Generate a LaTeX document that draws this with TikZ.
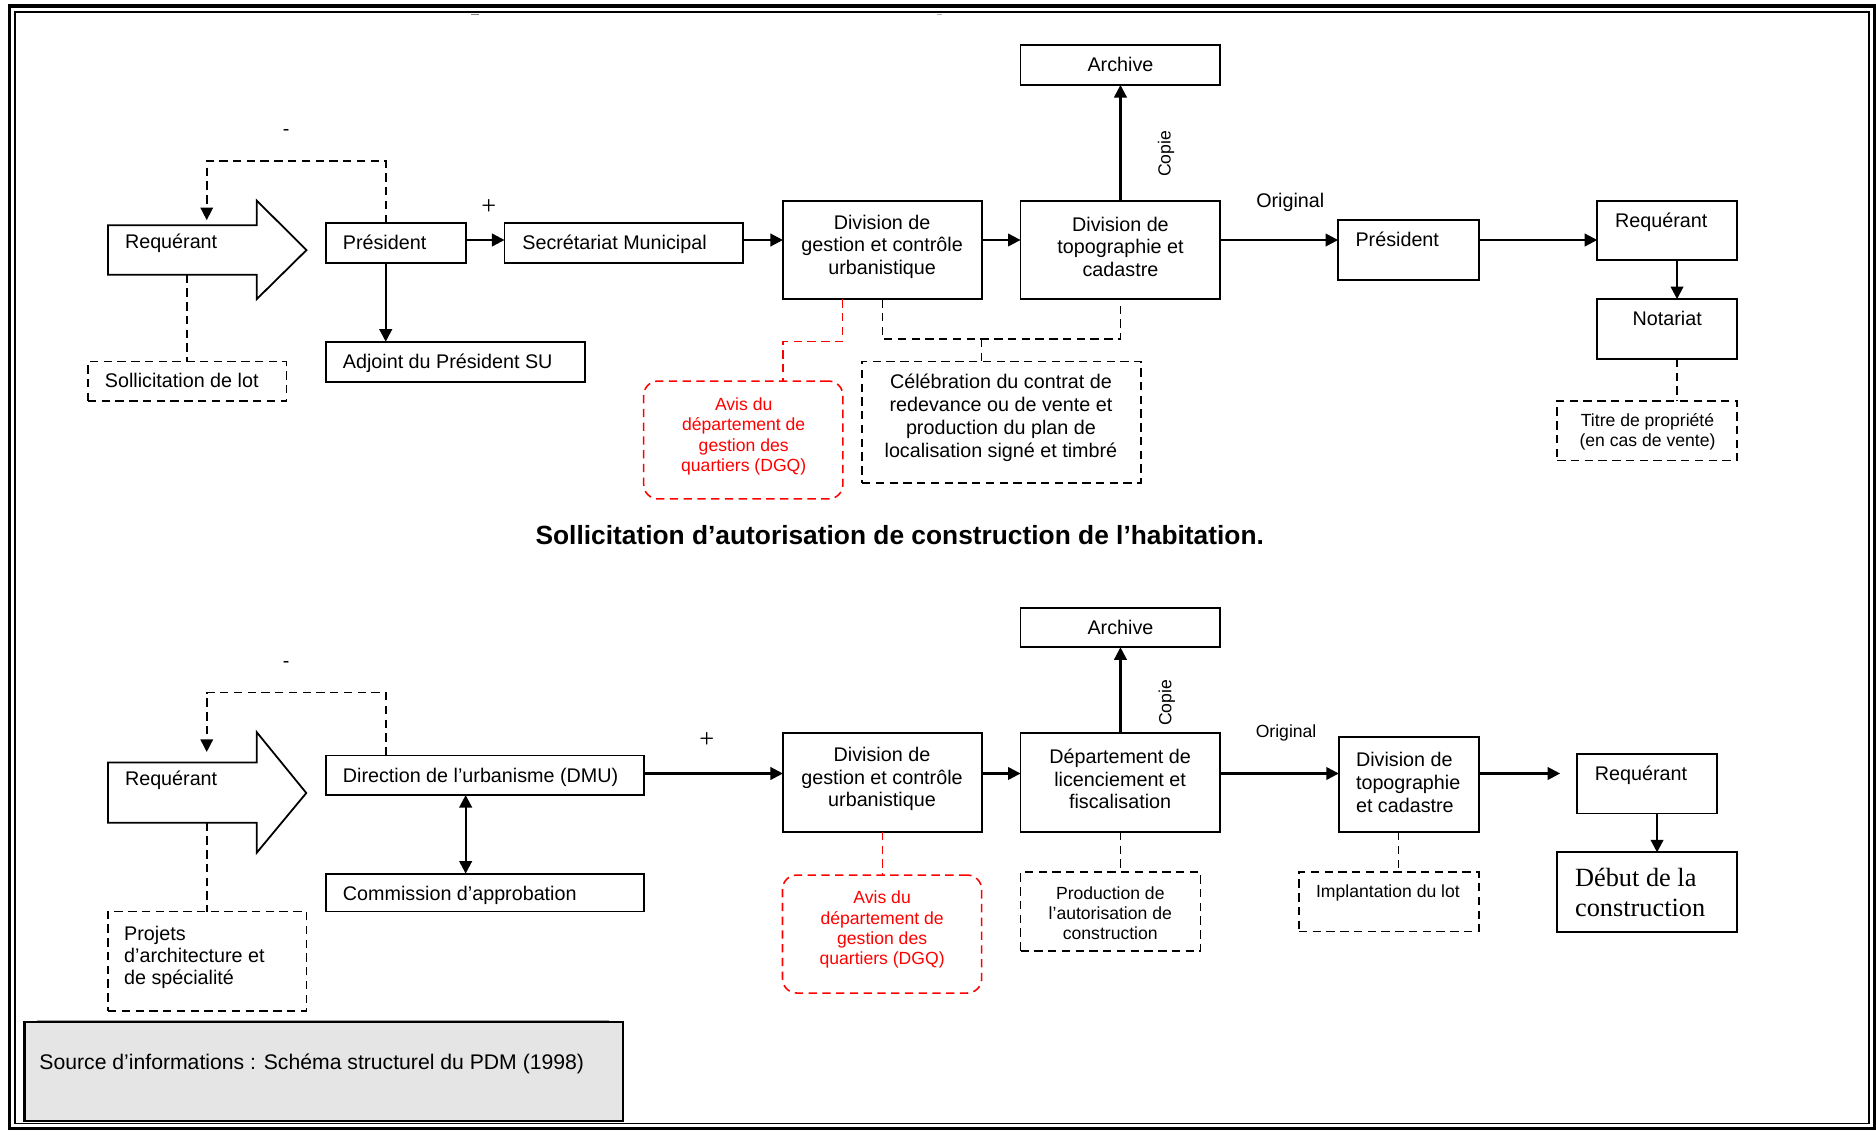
\documentclass[tikz,border=0pt]{standalone}
\usepackage{fontspec}
\setmainfont{Liberation Sans}
\newfontfamily\timesfont{Liberation Serif}
\usetikzlibrary{arrows.meta}
\newcommand\fsn{\fontsize{16.5}{18.5}\selectfont}
\newcommand\fss{\fontsize{14.7}{16.9}\selectfont}
\definecolor{srcgray}{RGB}{229,229,229}
\definecolor{avisred}{RGB}{255,0,0}

\begin{document}
\begin{tikzpicture}[x=1pt,y=-1pt,
  box/.style={draw, line width=1.5pt, inner sep=0pt, outer sep=0pt, fill=white},
  dbox/.style={draw, line width=1.3pt, dash pattern=on 7pt off 4.5pt, inner sep=0pt, outer sep=0pt, fill=white},
  rbox/.style={draw=avisred, line width=1.3pt, dash pattern=on 7pt off 4.5pt, rounded corners=12pt, inner sep=0pt, outer sep=0pt},
  bigarrow/.style={draw, line width=1.5pt, fill=white, line join=miter},
  txt/.style={inner sep=0pt, outer sep=0pt, font=\fsn, text height=0.8em, text depth=0.2em, yshift=-2.5pt},
  stxt/.style={txt, font=\fss, yshift=1pt},
  mtxt/.style={inner sep=0pt, outer sep=0pt, font=\fsn, align=center, yshift=-2.5pt},
  smtxt/.style={inner sep=0pt, outer sep=0pt, font=\fss, align=center, yshift=-1.5pt},
  redtxt/.style={smtxt, text=avisred,
    execute at begin node=\setlength{\baselineskip}{16.9pt}},
  plus/.style={inner sep=0pt, outer sep=0pt, font=\timesfont\fontsize{22}{22}\selectfont},
  tip/.style={-{Triangle[length=10.5pt,width=10.5pt]}},
  arr/.style={line width=1.9pt, tip},
  darr/.style={line width=1.9pt, {Triangle[length=10.5pt,width=10.5pt]}-{Triangle[length=10.5pt,width=10.5pt]}},
  dline/.style={line width=1.3pt, dash pattern=on 7pt off 4.5pt},
  rline/.style={draw=avisred, line width=1.3pt, dash pattern=on 7pt off 4.5pt}
]
\useasboundingbox (0,0) rectangle (1568,944);

% double frame
\draw[line width=2.6pt] (8,5) rectangle (1566.5,943.4);
\draw[line width=1.5pt] (12.8,9.8) rectangle (1561.8,939);
\draw[line width=0.8pt, gray] (393.5,12.4) -- (400,12.4);
\draw[line width=0.8pt, gray!60] (783,12.4) -- (787,12.4);

% ---------- first procedure ----------
\draw[bigarrow] (90.3,188.3) -- (214.6,188.3) -- (214.6,167.7) -- (256.2,209)
  -- (214.6,250) -- (214.6,229.6) -- (90.3,229.6) -- cycle;
\node[txt, anchor=west] (treqA) at (104.5,202) {Requérant};

\node[box, minimum width=116.5pt, minimum height=33.4pt] (pres1) at (330.95,203.1) {};
\node[txt, anchor=west] (tpres1) at (286.6,203.4) {Président};
\node[box, minimum width=199.3pt, minimum height=33.4pt] (sec) at (521.35,203.1) {};
\node[txt, anchor=west] (tsec) at (436.6,203.4) {Secrétariat Municipal};
\node[box, minimum width=166.2pt, minimum height=82.5pt] (dg1) at (737.5,208.95) {};
\node[mtxt] (tdg1) at (737.3,203.8) {Division de\\gestion et contrôle\\urbanistique};
\node[box, minimum width=167pt, minimum height=82.5pt] (dt1) at (936.5,208.95) {};
\node[mtxt] (tdt1) at (936.5,203.8) {Division de\\topographie et\\cadastre};
\node[box, minimum width=167pt, minimum height=33.4pt] (arch1) at (936.5,54.3) {};
\node[txt] (tarch1) at (936.5,54.3) {Archive};
\node[box, minimum width=117.6pt, minimum height=50.1pt] (pres2) at (1177.2,208.95) {};
\node[txt, anchor=west] (tpres2) at (1133,200.6) {Président};
\node[box, minimum width=117pt, minimum height=49.6pt] (req2) at (1393.5,192.5) {};
\node[txt, anchor=west] (treq2) at (1350,185) {Requérant};
\node[box, minimum width=117pt, minimum height=50pt] (not) at (1393.5,275) {};
\node[txt] (tnot) at (1393.5,266.7) {Notariat};
\node[dbox, minimum width=150.5pt, minimum height=50pt] (tit) at (1376.75,360) {};
\node[smtxt] (ttit) at (1377,359.6) {Titre de propriété\\(en cas de vente)};
\node[box, minimum width=216.2pt, minimum height=33.4pt] (adj) at (380.8,302.3) {};
\node[txt, anchor=west] (tadj) at (286.6,302.8) {Adjoint du Président SU};
\node[dbox, minimum width=166.1pt, minimum height=32.9pt] (sol) at (156.55,318.75) {};
\node[txt, anchor=west] (tsol) at (87.7,318.5) {Sollicitation de lot};
\node[rbox, minimum width=166.5pt, minimum height=98.5pt] (avis1) at (621.25,367.75) {};
\node[redtxt] (tavis1) at (621.6,363.3) {Avis du\\département de\\gestion des\\quartiers (DGQ)};
\node[dbox, minimum width=233.2pt, minimum height=101.5pt] (cel) at (837.1,352.75) {};
\node[mtxt, yshift=1pt, execute at begin node=\setlength{\baselineskip}{19.2pt}] (tcel) at (836.6,347.9)
  {Célébration du contrat  de\\redevance ou de vente et\\production du plan de\\localisation signé et timbré};

\node[txt] (minusA) at (239.2,108.1) {-};
\node[plus] (plusA) at (408.6,172.7) {+};
\node[stxt, rotate=90, yshift=0pt] (copieA) at (975.5,127) {Copie};
\node[txt, anchor=west] (origA) at (1050,167.7) {Original};

\coordinate (yA) at (0,200.6);
\coordinate (xP) at (322.4,0);
\coordinate (xN) at (1401.7,0);
\coordinate (fbtopA) at (172.8,134.6);
\coordinate (fbendA) at (172.8,184);
\coordinate (reqAfoot) at (156.3,229.6);
\coordinate (rA) at (704,285.6);
\coordinate (rB) at (654.5,285.6);
\coordinate (brk) at (820.5,283.3);

\draw[arr] (pres1.east |- yA) -- (sec.west |- yA);
\draw[arr] (sec.east |- yA) -- (dg1.west |- yA);
\draw[arr] (dg1.east |- yA) -- (dt1.west |- yA);
\draw[arr] (dt1.east |- yA) -- (pres2.west |- yA);
\draw[arr] (pres2.east |- yA) -- (req2.west |- yA);
\draw[arr] (dt1.north) -- (arch1.south);
\draw[arr] (pres1.south -| xP) -- (adj.north -| xP);
\draw[arr] (req2.south -| xN) -- (not.north -| xN);
\draw[dline] (not.south -| xN) -- (tit.north -| xN);
\draw[dline, tip] (pres1.north -| xP) |- (fbtopA) -- (fbendA);
\draw[dline] (reqAfoot) -- (sol.north -| reqAfoot);
\draw[rline] (dg1.south -| rA) -- (rA) -- (rB) -- (avis1.north -| rB);
\draw[dline] (dg1.south) |- (brk) -| (dt1.south);
\draw[dline] (brk) -- (cel.north -| brk);

% ---------- title ----------
\node[inner sep=0pt, font=\bfseries\fontsize{22}{26}\selectfont, yshift=-1pt] (title) at (752,446)
  {Sollicitation d’autorisation de construction de l’habitation.};

% ---------- second procedure ----------
\draw[bigarrow] (90.3,637.3) -- (214.6,637.3) -- (214.6,612) -- (256,662.8)
  -- (214.6,712.7) -- (214.6,687.6) -- (90.3,687.6) -- cycle;
\node[txt, anchor=west] (treqB) at (104.5,651) {Requérant};

\node[box, minimum width=265.8pt, minimum height=33.1pt] (dmu) at (405.6,647.95) {};
\node[txt, anchor=west] (tdmu) at (286.6,648.6) {Direction de l’urbanisme (DMU)};
\node[box, minimum width=265.8pt, minimum height=31.6pt] (com) at (405.6,746) {};
\node[txt, anchor=west] (tcom) at (286.6,747.3) {Commission d’approbation};
\node[dbox, minimum width=165.9pt, minimum height=83pt] (proj) at (173.25,803.4) {};
\node[mtxt, align=left, anchor=west,
  execute at begin node=\setlength{\baselineskip}{18.4pt}] (tproj) at (103.8,797.4)
  {Projets\\d’architecture et\\de spécialité};
\node[draw, line width=2pt, fill=srcgray, inner sep=0pt, outer sep=0pt,
  minimum width=500pt, minimum height=83pt] (src) at (270.5,895.5) {};
\draw[line width=0.8pt, gray!70] (31,852.6) -- (509,852.6);
\node[txt, font=\fontsize{17.7}{19}\selectfont, anchor=west] (tsrc) at (33,888.3)
  {Source d’informations : Schéma structurel du PDM (1998)};

\node[box, minimum width=166.2pt, minimum height=82.8pt] (dg2) at (737.5,653.8) {};
\node[mtxt, execute at begin node=\setlength{\baselineskip}{18.8pt}] (tdg2) at (737.2,648.7)
  {Division de\\gestion et contrôle\\urbanistique};
\node[box, minimum width=167pt, minimum height=82.8pt] (dept) at (936.5,653.8) {};
\node[mtxt, execute at begin node=\setlength{\baselineskip}{18.8pt}] (tdept) at (936.2,648.7)
  {Département de\\licenciement et\\fiscalisation};
\node[box, minimum width=167pt, minimum height=33pt] (arch2) at (936.5,524.5) {};
\node[txt] (tarch2) at (936.5,525.2) {Archive};
\node[box, minimum width=117pt, minimum height=79.5pt] (dt2) at (1177.5,655.75) {};
\node[mtxt, align=left, anchor=west,
  execute at begin node=\setlength{\baselineskip}{19.2pt}] (tdt2) at (1133.4,651.6)
  {Division de\\topographie\\et cadastre};
\node[box, minimum width=117pt, minimum height=50pt] (req3) at (1376.5,655) {};
\node[txt, anchor=west] (treq3) at (1333,647) {Requérant};
\node[box, minimum width=150.5pt, minimum height=66.6pt] (deb) at (1376.75,745.7) {};
\node[inner sep=0pt, font=\timesfont\fontsize{22}{25}\selectfont, align=left, anchor=west, yshift=-1pt] (tdeb)
  at (1316.3,745.2) {Début de la\\construction};
\node[dbox, minimum width=150.4pt, minimum height=49.7pt] (impl) at (1160.8,753.85) {};
\node[stxt, anchor=west] (timpl) at (1100,745.8) {Implantation du lot};
\node[dbox, minimum width=150.5pt, minimum height=66pt] (prod) at (928.25,762) {};
\node[smtxt] (tprod) at (928,761.8)
  {Production de\\l’autorisation de\\construction};
\node[rbox, minimum width=166.5pt, minimum height=98.6pt] (avis2) at (737.25,780.7) {};
\node[redtxt] (tavis2) at (737.3,775.6) {Avis du\\département de\\gestion des\\quartiers (DGQ)};

\node[txt] (minusB) at (239.2,552.3) {-};
\node[plus] (plusB) at (590.7,618.5) {+};
\node[stxt, rotate=90, yshift=0pt] (copieB) at (976,586) {Copie};
\node[stxt, anchor=west] (origB) at (1049.6,611.5) {Original};

\coordinate (yB) at (0,646.5);
\coordinate (xD) at (389.2,0);
\coordinate (xE) at (1385,0);
\coordinate (xT) at (1169,0);
\coordinate (fbtopB) at (172.8,578.9);
\coordinate (fbendB) at (172.8,628.5);
\coordinate (reqBfoot) at (172.8,687.6);
\coordinate (req3in) at (1304,646.5);

\draw[arr] (dmu.east |- yB) -- (dg2.west |- yB);
\draw[arr] (dg2.east |- yB) -- (dept.west |- yB);
\draw[arr] (dept.east |- yB) -- (dt2.west |- yB);
\draw[arr] (dt2.east |- yB) -- (req3in);
\draw[arr] (dept.north) -- (arch2.south);
\draw[darr] (dmu.south -| xD) -- (com.north -| xD);
\draw[arr] (req3.south -| xE) -- (deb.north -| xE);
\draw[dline, tip] (dmu.north -| xP) |- (fbtopB) -- (fbendB);
\draw[dline] (reqBfoot) -- (proj.north -| reqBfoot);
\draw[rline] (dg2.south) -- (avis2.north -| dg2.south);
\draw[dline] (dept.south) -- (prod.north -| dept.south);
\draw[dline] (dt2.south -| xT) -- (impl.north -| xT);
\end{tikzpicture}
\end{document}
